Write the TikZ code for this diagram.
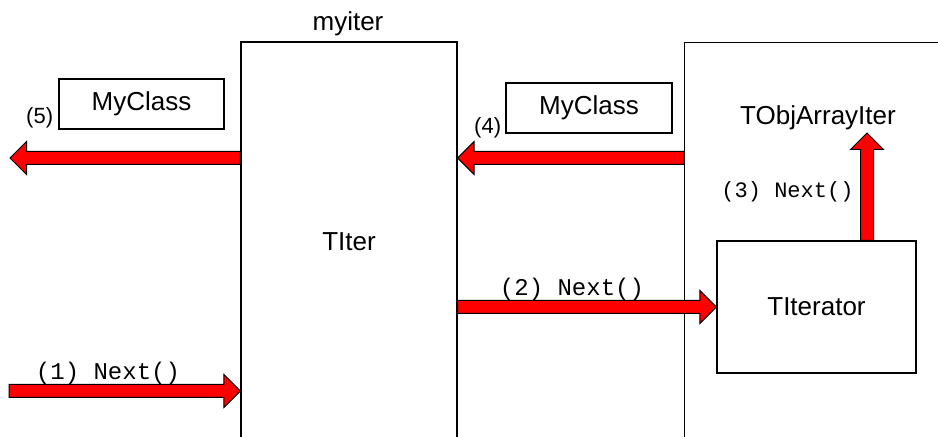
\documentclass[tikz,border=0pt]{standalone}
\usepackage{fontspec}
\setmainfont{Liberation Sans}
\setmonofont{Liberation Mono}
\usetikzlibrary{calc,positioning,shapes.arrows}

\tikzset{
  objbox/.style={draw, line width=0.6, inner sep=0pt, font=\fontsize{13}{15}\selectfont},
  objtext/.style={inner sep=0.75pt, font=\fontsize{13}{15}\selectfont},
  steptext/.style={inner sep=0.75pt, font=\fontsize{11}{13}\selectfont},
  calltext/.style={inner sep=0.75pt, font=\ttfamily\fontsize{12}{14}\selectfont},
  blockarrow/.style={single arrow, draw, fill=red, line width=0.5, inner xsep=0pt, inner ysep=3pt,
    single arrow head extend=5pt, single arrow tip angle=90, minimum width=0pt, outer sep=0pt}
}
% block arrow from #1 to #2
\newcommand\blockarr[2]{%
  \path let \p1=($(#2)-(#1)$), \n1={veclen(\x1,\y1)}, \n2={atan2(\y1,\x1)} in
    node[blockarrow, minimum height=\n1, anchor=tail, rotate=-\n2] at (#1) {};}

\begin{document}
\begin{tikzpicture}[x=0.5pt,y=0.5pt,yscale=-1,xscale=1]
  \clip (0,0) rectangle (938,437);

  % Objects
  \node [objbox, minimum width=108pt, minimum height=200pt] (TIter) at (349,242) {TIter};
  \node [objbox, anchor=north west, minimum width=140pt, minimum height=200pt] (ArrayIter) at (684,42) {};
  \node [objbox, minimum width=99.5pt, minimum height=66pt] (TIterator) at (816.5,307) {TIterator};
  \node [objbox, minimum width=82.5pt, minimum height=25pt] (MyClassA) at (141.5,104) {MyClass};
  \node [objbox, minimum width=83pt, minimum height=25pt] (MyClassB) at (589,108) {MyClass};

  % Text Nodes
  \node [objtext, anchor=base] (myiter) at (348,31) {myiter};
  \node [objtext, anchor=base] (ObjArrayIter) at (818,125) {TObjArrayIter};
  \node [steptext, anchor=base east] (stepfive) at (55,124) {(5)};
  \node [steptext, anchor=base east] (stepfour) at (503,134) {(4)};
  \node [calltext, anchor=base] (callone) at (108,380) {(1) Next()};
  \node [calltext, anchor=base] (calltwo) at (572,296) {(2) Next()};
  \node [calltext, anchor=base, font=\ttfamily\fontsize{11}{13}\selectfont] (callthree) at (787.5,198) {(3) Next()};

  % Arrow ends
  \coordinate (in) at (9,391);
  \coordinate (inend) at (in -| TIter.west);
  \coordinate (out) at (10,158);
  \coordinate (outstart) at (out -| TIter.west);
  \coordinate (retstart) at (out -| ArrayIter.west);
  \coordinate (retend) at (out -| TIter.east);
  \coordinate (callstart) at (TIterator.west -| TIter.east);
  \coordinate (up) at (867,133);
  \coordinate (upstart) at (TIterator.north -| up);

  % Block Arrows
  \blockarr{in}{inend}
  \blockarr{callstart}{TIterator.west}
  \blockarr{upstart}{up}
  \blockarr{retstart}{retend}
  \blockarr{outstart}{out}
\end{tikzpicture}
\end{document}
